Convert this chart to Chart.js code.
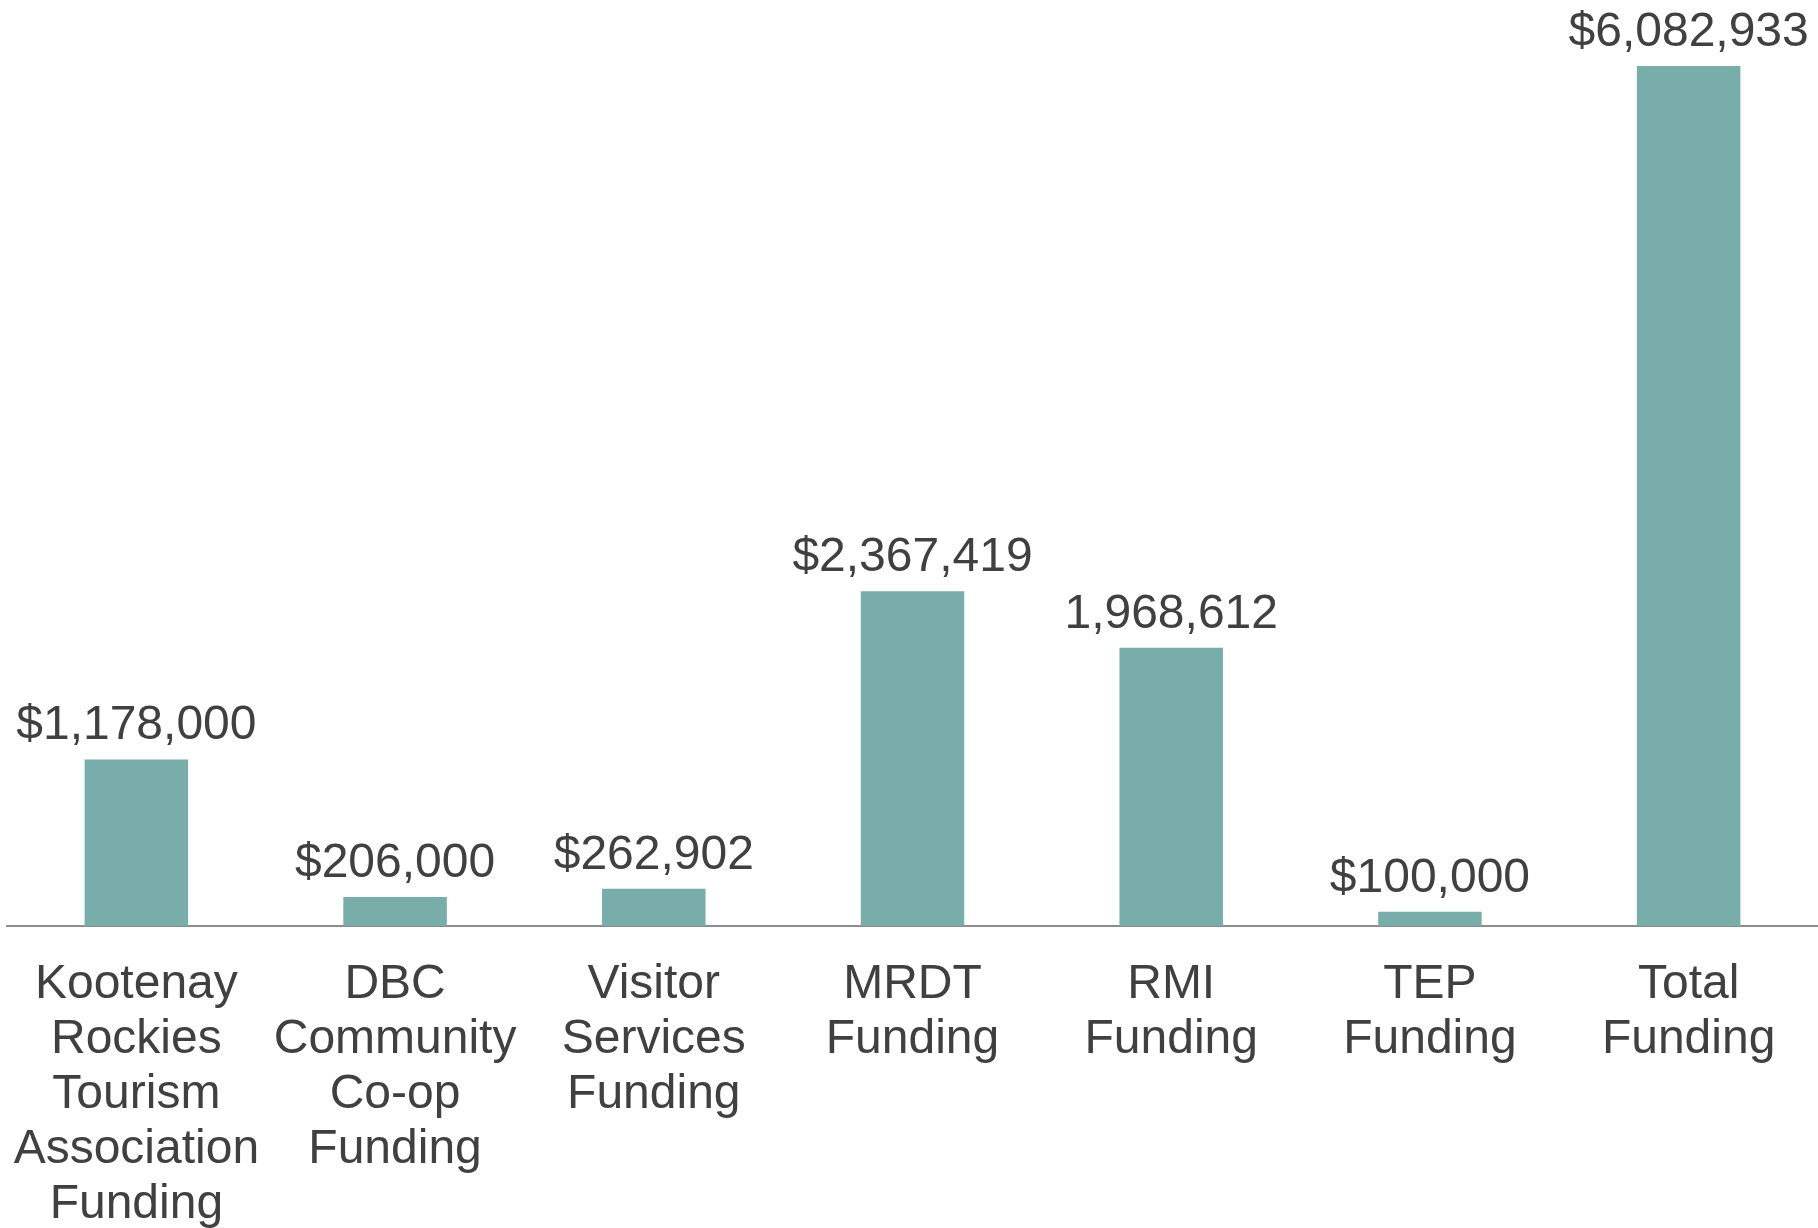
<!DOCTYPE html>
<html>
<head>
<meta charset="utf-8">
<script src="https://cdn.jsdelivr.net/npm/chart.js@4/dist/chart.umd.min.js"></script>
<style>
  html, body { margin: 0; padding: 0; background: #fff; }
  #wrap { width: 1818px; height: 1228px; position: relative; }
</style>
</head>
<body>
<div id="wrap"><canvas id="chart"></canvas></div>
<script>
// funding categories (multi-line labels as in the original)
const categories = [
  ['Kootenay', 'Rockies', 'Tourism', 'Association', 'Funding'],
  ['DBC', 'Community', 'Co-op', 'Funding'],
  ['Visitor', 'Services', 'Funding'],
  ['MRDT', 'Funding'],
  ['RMI', 'Funding'],
  ['TEP', 'Funding'],
  ['Total', 'Funding']
];
const amounts = [1178000, 206000, 262902, 2367419, 1968612, 100000, 6082933];
const amountLabels = ['$1,178,000', '$206,000', '$262,902', '$2,367,419', '1,968,612', '$100,000', '$6,082,933'];

const FONT = '"Liberation Sans", Arial, sans-serif';
const TEXT = '#404040';

// draws the value above each bar
const barValues = {
  id: 'barValues',
  afterDatasetsDraw(chart) {
    const ctx = chart.ctx;
    const meta = chart.getDatasetMeta(0);
    ctx.save();
    ctx.font = '48px ' + FONT;
    ctx.fillStyle = TEXT;
    ctx.textAlign = 'center';
    ctx.textBaseline = 'alphabetic';
    meta.data.forEach((bar, i) => {
      ctx.fillText(amountLabels[i], bar.x, bar.y - 20);
    });
    ctx.restore();
  }
};

new Chart(document.getElementById('chart'), {
  type: 'bar',
  data: {
    labels: categories,
    datasets: [{
      data: amounts,
      backgroundColor: '#78ADAA',
      borderWidth: 0,
      categoryPercentage: 1,
      barPercentage: 0.4
    }]
  },
  options: {
    responsive: true,
    maintainAspectRatio: false,
    animation: false,
    layout: { padding: { left: 7, right: 0, top: 0, bottom: 0 } },
    plugins: {
      legend: { display: false },
      tooltip: { enabled: false }
    },
    scales: {
      x: {
        grid: { display: false, drawTicks: false },
        border: { display: true, color: '#8C8C8C', width: 2 },
        ticks: {
          color: TEXT,
          font: { family: FONT, size: 48, lineHeight: 55 / 48 },
          padding: 31,
          autoSkip: false,
          maxRotation: 0,
          minRotation: 0
        },
        afterFit(scale) {
          // fixed axis band so the baseline sits where the original has it
          scale.height = 302;
          scale.paddingLeft = 0;
          scale.paddingRight = 0;
        }
      },
      y: {
        display: false,
        min: 0,
        max: 6550000
      }
    }
  },
  plugins: [barValues]
});
</script>
</body>
</html>
